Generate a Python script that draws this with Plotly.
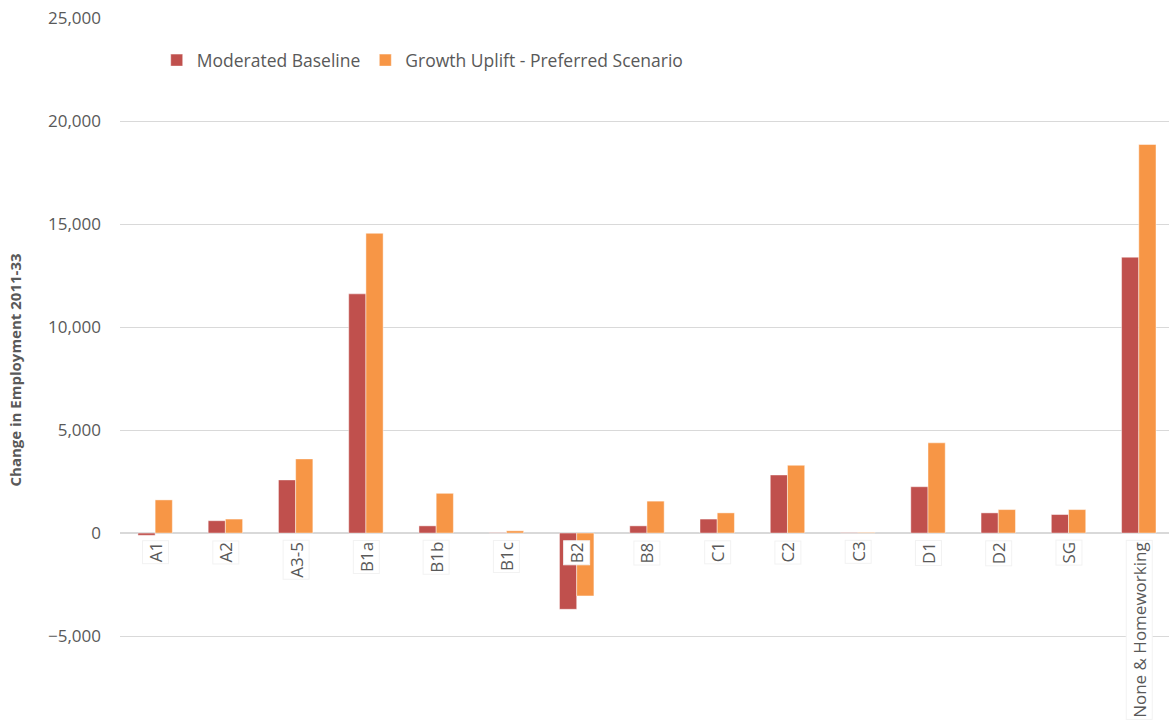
import plotly.graph_objects as go

# Use classes and employment change 2011-33
categories = ["A1", "A2", "A3-5", "B1a", "B1b", "B1c", "B2", "B8",
              "C1", "C2", "C3", "D1", "D2", "SG", "None & Homeworking"]
moderated_baseline = [-110, 600, 2580, 11610, 350, 20, -3700, 350,
                      680, 2820, 20, 2250, 980, 900, 13390]
growth_uplift = [1610, 680, 3600, 14550, 1930, 110, -3050, 1550,
                 980, 3290, 30, 4380, 1140, 1140, 18860]

RED = "#C0504D"
ORANGE = "#F79646"
GREY_TEXT = "#595959"
GRID = "#D9D9D9"
FONT = "Open Sans"

fig = go.Figure()
fig.add_trace(go.Bar(
    name="Moderated Baseline", x=categories, y=moderated_baseline,
    marker=dict(color=RED, line=dict(color="rgba(255,255,255,0.45)", width=1)),
))
fig.add_trace(go.Bar(
    name="Growth Uplift - Preferred Scenario", x=categories, y=growth_uplift,
    marker=dict(color=ORANGE, line=dict(color="rgba(255,255,255,0.45)", width=1)),
))

# Category labels sit just below the zero line on white boxes
for cat in categories:
    fig.add_annotation(
        x=cat, y=0, xref="x", yref="y", text=cat, showarrow=False,
        textangle=-90, xanchor="center", yanchor="top", yshift=-7,
        bgcolor="white", bordercolor="#F2F2F2", borderwidth=1, borderpad=1,
        font=dict(family=FONT, size=17, color=GREY_TEXT),
    )

fig.update_layout(
    width=1169, height=722,
    margin=dict(l=120, r=0, t=18, b=0),
    paper_bgcolor="white", plot_bgcolor="white",
    barmode="group", bargap=0.51, bargroupgap=0,
    font=dict(family=FONT, color=GREY_TEXT),
    showlegend=True,
    legend=dict(
        orientation="h", x=0.035, xanchor="left", y=0.94, yanchor="middle",
        font=dict(family=FONT, size=17.5, color=GREY_TEXT),
        bgcolor="rgba(0,0,0,0)", itemwidth=30, traceorder="normal",
    ),
    xaxis=dict(
        type="category", range=[-0.5, 14.43], showticklabels=False,
        showgrid=False, showline=False, zeroline=False, ticks="",
    ),
    yaxis=dict(
        range=[-9170, 25000], tickvals=[-5000, 0, 5000, 10000, 15000, 20000, 25000],
        tickformat=",", showgrid=True, gridcolor=GRID, gridwidth=1,
        zeroline=True, zerolinecolor=GRID, zerolinewidth=1.5,
        showline=False, ticks="", ticklabelstandoff=18,
        tickfont=dict(family=FONT, size=17, color=GREY_TEXT),
        title=dict(text="<b>Change in Employment 2011-33</b>", standoff=22,
                   font=dict(family=FONT, size=15, color=GREY_TEXT)),
    ),
)

fig.write_html("out.html")
